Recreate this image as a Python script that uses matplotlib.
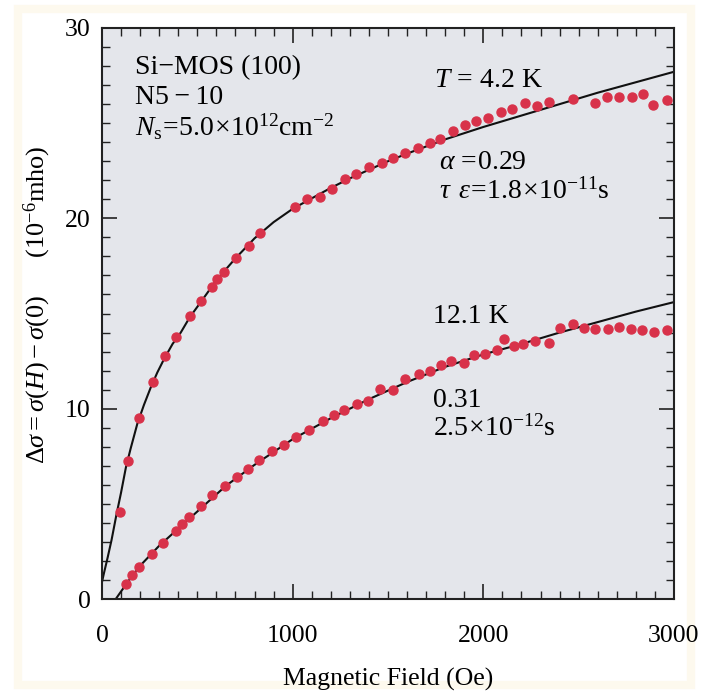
#!/usr/bin/env python3
"""Magnetoconductance of Si-MOS (100), N5-10, at 4.2 K and 12.1 K."""
import matplotlib
matplotlib.use("Agg")
import matplotlib.pyplot as plt
from matplotlib.patches import Rectangle
from matplotlib.ticker import MultipleLocator

fontsize = 18.5
params = {"font.family": "serif",
          "font.serif": ["Liberation Serif", "DejaVu Serif"],
          "mathtext.fontset": "custom",
          "mathtext.rm": "Liberation Serif",
          "mathtext.it": "Liberation Serif:italic",
          "mathtext.fallback": "stix",
          "font.size": fontsize,
          "axes.labelsize": fontsize,
          "xtick.labelsize": fontsize,
          "ytick.labelsize": fontsize}
plt.rcParams.update(params)

# measured points, T = 4.2 K
field_42 = [93, 136, 194, 269, 329, 386, 461, 518, 575, 601, 641, 701, 771, 829,
            1012, 1073, 1143, 1205, 1274, 1332, 1402, 1467, 1528, 1589, 1659,
            1720, 1772, 1839, 1904, 1961, 2026, 2091, 2148, 2218, 2283, 2346,
            2471, 2585, 2650, 2711, 2778, 2835, 2888, 2964]
dsig_42 = [4.59, 7.27, 9.50, 11.39, 12.79, 13.75, 14.87, 15.68, 16.41, 16.82,
           17.20, 17.90, 18.55, 19.22, 20.58, 21.02, 21.11, 21.53, 22.05, 22.32,
           22.68, 22.89, 23.19, 23.45, 23.72, 23.95, 24.19, 24.61, 24.91, 25.13,
           25.26, 25.61, 25.75, 26.05, 25.92, 26.13, 26.27, 26.08, 26.40, 26.40,
           26.40, 26.54, 25.96, 26.22]

# measured points, T = 12.1 K
field_121 = [124, 159, 194, 264, 321, 386, 418, 456, 518, 578, 643, 706, 767,
             825, 893, 954, 1016, 1085, 1161, 1218, 1271, 1336, 1396, 1458, 1524,
             1589, 1664, 1720, 1776, 1830, 1898, 1951, 2008, 2070, 2110, 2160,
             2209, 2271, 2346, 2402, 2468, 2529, 2585, 2655, 2711, 2772, 2833,
             2895, 2961]
dsig_121 = [0.79, 1.26, 1.66, 2.36, 2.96, 3.59, 3.94, 4.29, 4.89, 5.45, 5.94,
            6.40, 6.82, 7.30, 7.78, 8.09, 8.50, 8.88, 9.35, 9.65, 9.93, 10.23,
            10.42, 11.02, 10.98, 11.56, 11.81, 11.98, 12.30, 12.52, 12.42, 12.82,
            12.87, 13.08, 13.68, 13.29, 13.40, 13.54, 13.44, 14.26, 14.45, 14.26,
            14.17, 14.20, 14.31, 14.17, 14.15, 14.05, 14.12]

# fitted curves
fit_x_42 = [0, 10, 30, 50, 75, 100, 125, 150, 185, 220, 255, 290, 325, 370,
            413, 460, 518, 600, 700, 800, 900, 1000, 1100, 1200, 1300, 1400,
            1500, 1600, 1800, 2000, 2200, 2400, 2600, 2800, 3000]
fit_y_42 = [0.9, 1.35, 2.2, 3.1, 4.4, 5.6, 6.9, 7.9, 9.2, 10.2, 11.1, 11.9,
            12.6, 13.4, 14.0, 14.8, 15.6, 16.75, 17.9, 18.95, 19.8, 20.5, 21.05,
            21.6, 22.1, 22.55, 23.0, 23.4, 24.15, 24.8, 25.4, 26.0, 26.6,
            27.15, 27.7]
fit_x_121 = [72, 100, 150, 200, 300, 400, 500, 650, 800, 1000, 1200, 1400,
             1600, 1800, 2000, 2200, 2400, 2600, 2800, 3000]
fit_y_121 = [0.0, 0.4, 1.1, 1.75, 2.8, 3.7, 4.6, 5.95, 7.05, 8.4, 9.5, 10.5,
             11.4, 12.2, 12.85, 13.4, 14.0, 14.55, 15.1, 15.6]

dot_color = "#d8324a"


def main():
    fig = plt.figure(figsize=(7.05, 6.93), dpi=100)
    # faint scan border
    fig.patches.append(Rectangle((0.025, 0.012), 0.955, 0.975,
                                 transform=fig.transFigure, fill=False,
                                 ec="#fdf9ee", lw=6, zorder=-5))
    ax = fig.add_axes([0.1447, 0.1356, 0.8113, 0.824])
    ax.set_facecolor("#e4e6eb")

    ax.plot(fit_x_42, fit_y_42, color="#111111", lw=1.5, zorder=2)
    ax.plot(fit_x_121, fit_y_121, color="#111111", lw=1.5, zorder=2)
    kwargs = {"marker": "o", "ms": 6.5, "linestyle": "none",
              "color": dot_color, "mec": dot_color, "zorder": 3}
    ax.plot(field_42, dsig_42, **kwargs)
    ax.plot(field_121, dsig_121, **kwargs)

    ax.set_xlim(0, 3000)
    ax.set_ylim(0, 30)
    ax.xaxis.set_major_locator(MultipleLocator(1000))
    ax.xaxis.set_minor_locator(MultipleLocator(100))
    ax.yaxis.set_major_locator(MultipleLocator(10))
    ax.yaxis.set_minor_locator(MultipleLocator(1))
    ax.tick_params(which="both", direction="in", top=True, right=True,
                   color="#222222")
    ax.tick_params(which="major", length=11, width=1.2)
    ax.tick_params(which="minor", length=6, width=1.0)
    ax.tick_params(axis="x", which="major", pad=19)
    ax.tick_params(axis="y", which="major", pad=8)
    for s in ax.spines.values():
        s.set_linewidth(1.5)
        s.set_color("#222222")

    ax.set_xlabel("Magnetic Field (Oe)")
    ax.xaxis.set_label_coords(0.5, -0.12)
    ax.set_ylabel(r"$\mathit{\Delta\sigma}=\sigma(H)-\sigma(0)$"
                  r"$\qquad(10^{-6}$mho$)$", fontsize=19)
    ax.yaxis.set_label_coords(-0.086, 0.515)

    tsize = 20
    ax.text(175, 27.9, "Si\u2212MOS (100)", fontsize=tsize, va="center")
    ax.text(175, 26.35, "N5\u2009\u2212\u200910", fontsize=tsize, va="center")
    ax.text(175, 24.8, r"$N_{\rm s}\!=\!5.0\!\times\!10^{12}{\rm cm}^{-2}$",
            fontsize=tsize, va="center")
    ax.text(1740, 27.25, r"$T\,=\,4.2$ K", fontsize=tsize, va="center")
    ax.text(1765, 22.95, r"$\alpha\,=\!0.29$", fontsize=tsize, va="center")
    ax.text(1765, 21.4, r"$\tau\ \,\epsilon\!=\!1.8\!\times\!10^{-11}$s",
            fontsize=tsize, va="center")
    ax.text(1736, 14.85, "12.1 K", fontsize=tsize, va="center")
    ax.text(1736, 10.45, "0.31", fontsize=tsize, va="center")
    ax.text(1736, 8.95, r"$2.5\!\times\!10^{-12}$s", fontsize=tsize,
            va="center")

    plt.savefig("out.png", dpi=100)


if __name__ == "__main__":
    main()
